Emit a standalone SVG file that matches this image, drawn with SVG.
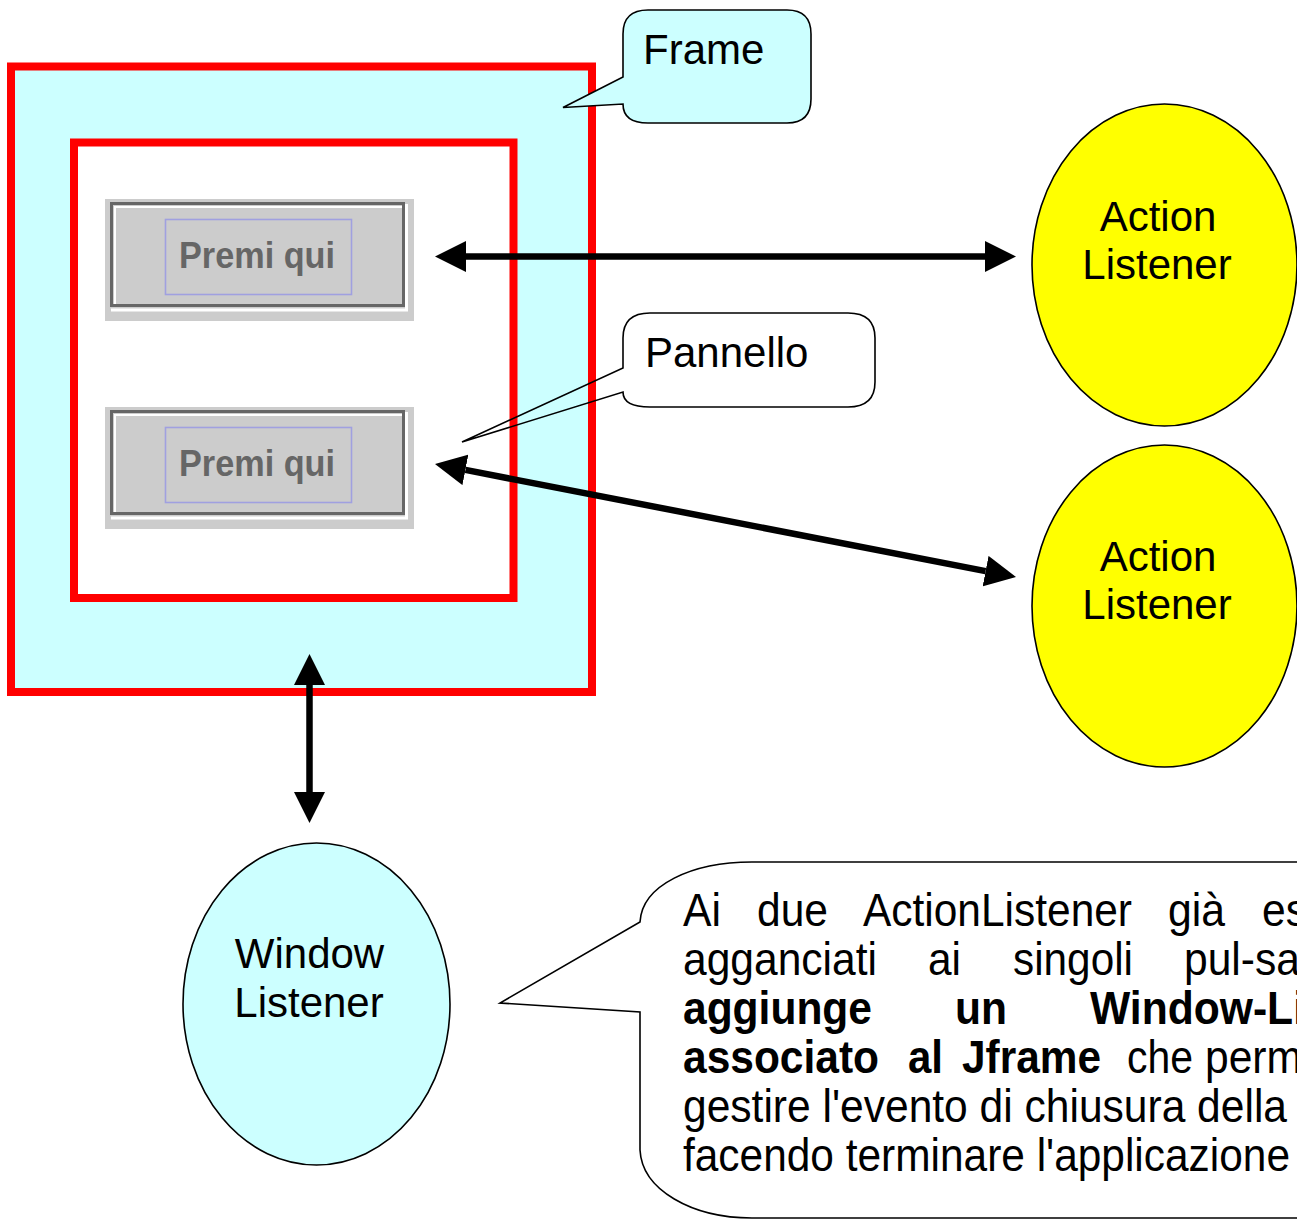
<svg xmlns="http://www.w3.org/2000/svg" width="1297" height="1220" viewBox="0 0 1297 1220">
  <style>
    .lbl { font-family: "Liberation Sans", Arial, sans-serif; font-size: 42px; fill: #000; }
    .note { font-family: "Liberation Sans", Arial, sans-serif; font-size: 46px; fill: #000; }
    .b { font-weight: bold; }
    .red { fill: none; stroke: #ff0000; stroke-width: 8; }
    .outline { stroke: #000; stroke-width: 1.6; }
    .conn { stroke: #000; stroke-width: 6.5; fill: none; }
    .btntxt { font-family: "Liberation Sans", Arial, sans-serif; font-weight: bold; font-size: 36px; fill: #666666; }
  </style>
  <defs>
    <marker id="head" viewBox="0 -16 32 32" refX="0" refY="0" markerWidth="32" markerHeight="32" markerUnits="userSpaceOnUse" orient="auto-start-reverse">
      <path d="M0,-15.5 L31,0 L0,15.5 z" fill="#000"/>
    </marker>
    <!-- Swing-style push button -->
    <g id="btn">
      <rect x="105" y="199" width="309" height="122" fill="#cccccc"/>
      <polyline points="115,304 115,207 402,207" fill="none" stroke="#ffffff" stroke-width="2"/>
      <polyline points="111,310 406.5,310 406.5,204" fill="none" stroke="#ffffff" stroke-width="3"/>
      <rect x="111.5" y="203.5" width="292" height="102" fill="none" stroke="#666666" stroke-width="3"/>
      <rect x="165.5" y="219.5" width="186" height="75" fill="none" stroke="#a0a0e0" stroke-width="1.6"/>
      <text class="btntxt" x="179" y="268" textLength="156" lengthAdjust="spacingAndGlyphs">Premi qui</text>
    </g>
  </defs>

  <!-- Frame and panel -->
  <g id="frame">
    <rect x="11" y="66.5" width="581" height="625.5" fill="#ccffff"/>
    <rect class="red" x="11" y="66.5" width="581" height="625.5"/>
  </g>
  <g id="panel">
    <rect x="74" y="142.5" width="439.5" height="455.5" fill="#ffffff"/>
    <rect class="red" x="74" y="142.5" width="439.5" height="455.5"/>
  </g>

  <g id="button1"><use href="#btn"/></g>
  <g id="button2"><use href="#btn" transform="translate(0,208)"/></g>

  <!-- Callouts -->
  <g id="frame-callout">
    <path class="outline" fill="#ccffff" d="M648,10 L787,10 Q811,10 811,34 L811,99 Q811,123 787,123 L648,123 Q623,123 623,104 L563,107.5 L623,77 L623,34 Q623,10 648,10 z"/>
    <text class="lbl" x="643" y="64">Frame</text>
  </g>
  <g id="panel-callout">
    <path class="outline" fill="none" d="M650,313 L848,313 Q875,313 875,338 L875,382 Q875,407 848,407 L650,407 Q623,407 623,392 L462,442 L623,368 L623,338 Q623,313 650,313 z"/>
    <text class="lbl" x="645" y="367">Pannello</text>
  </g>

  <!-- Listeners -->
  <g id="action-listener-1">
    <ellipse class="outline" cx="1164.5" cy="265" rx="132.5" ry="161" fill="#ffff00"/>
    <text class="lbl" x="1158" y="231" text-anchor="middle">Action</text>
    <text class="lbl" x="1157" y="279" text-anchor="middle">Listener</text>
  </g>
  <g id="action-listener-2">
    <ellipse class="outline" cx="1164.5" cy="606" rx="132.5" ry="161" fill="#ffff00"/>
    <text class="lbl" x="1158" y="571" text-anchor="middle">Action</text>
    <text class="lbl" x="1157" y="619" text-anchor="middle">Listener</text>
  </g>
  <g id="window-listener">
    <ellipse class="outline" cx="316.5" cy="1004" rx="133.5" ry="161" fill="#ccffff"/>
    <text class="lbl" x="309.5" y="968" text-anchor="middle">Window</text>
    <text class="lbl" x="309" y="1017" text-anchor="middle">Listener</text>
  </g>

  <!-- Connectors -->
  <g id="connectors">
    <line class="conn" x1="466" y1="256.5" x2="985" y2="256.5" marker-start="url(#head)" marker-end="url(#head)"/>
    <line class="conn" x1="465.4" y1="469.9" x2="985.6" y2="571.1" marker-start="url(#head)" marker-end="url(#head)"/>
    <line class="conn" x1="309.5" y1="685" x2="309.5" y2="792" marker-start="url(#head)" marker-end="url(#head)"/>
  </g>

  <!-- Note callout -->
  <g id="note-callout">
    <path class="outline" fill="none" d="M1310,862 L752,862 C692,862 642,885 640,922 L500,1003 L640,1012 L640,1150 C642,1190 692,1218 752,1218 L1310,1218"/>
    <text class="note" y="926">
      <tspan x="683" textLength="38" lengthAdjust="spacingAndGlyphs">Ai</tspan>
      <tspan x="757" textLength="71" lengthAdjust="spacingAndGlyphs">due</tspan>
      <tspan x="863" textLength="269" lengthAdjust="spacingAndGlyphs">ActionListener</tspan>
      <tspan x="1168" textLength="57" lengthAdjust="spacingAndGlyphs">già</tspan>
      <tspan x="1262" textLength="45" lengthAdjust="spacingAndGlyphs">es</tspan>
    </text>
    <text class="note" y="975">
      <tspan x="683" textLength="194" lengthAdjust="spacingAndGlyphs">agganciati</tspan>
      <tspan x="928" textLength="33" lengthAdjust="spacingAndGlyphs">ai</tspan>
      <tspan x="1013" textLength="120" lengthAdjust="spacingAndGlyphs">singoli</tspan>
      <tspan x="1184" textLength="116" lengthAdjust="spacingAndGlyphs">pul-sa</tspan>
    </text>
    <text class="note b" y="1024">
      <tspan x="683" textLength="189" lengthAdjust="spacingAndGlyphs">aggiunge</tspan>
      <tspan x="955" textLength="52" lengthAdjust="spacingAndGlyphs">un</tspan>
      <tspan x="1090" textLength="215" lengthAdjust="spacingAndGlyphs">Window-Li</tspan>
    </text>
    <text class="note" y="1073">
      <tspan class="b" x="683" textLength="196" lengthAdjust="spacingAndGlyphs">associato</tspan>
      <tspan class="b" x="908" textLength="35" lengthAdjust="spacingAndGlyphs">al</tspan>
      <tspan class="b" x="962" textLength="139" lengthAdjust="spacingAndGlyphs">Jframe</tspan>
      <tspan x="1127" textLength="66" lengthAdjust="spacingAndGlyphs">che</tspan>
      <tspan x="1205" textLength="97" lengthAdjust="spacingAndGlyphs">perm</tspan>
    </text>
    <text class="note" x="683" y="1122" textLength="604" lengthAdjust="spacingAndGlyphs">gestire l'evento di chiusura della</text>
    <text class="note" x="683" y="1171" textLength="607" lengthAdjust="spacingAndGlyphs">facendo terminare l'applicazione</text>
  </g>
</svg>
